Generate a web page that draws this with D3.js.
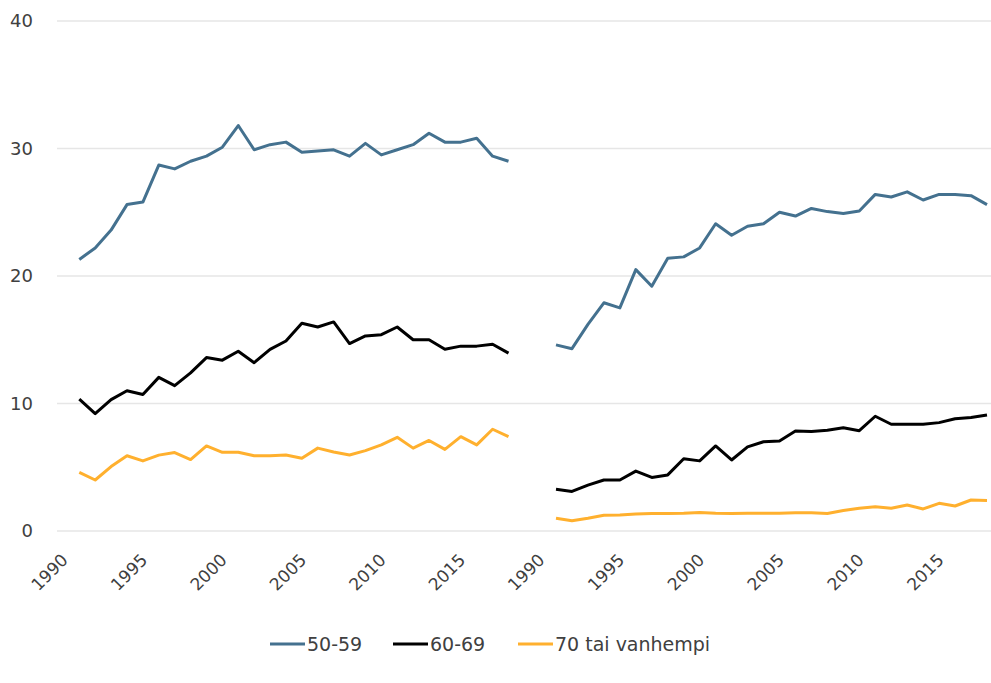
<!DOCTYPE html>
<html lang='en'>
	<head>
		<meta charset='UTF-8'>
		<title>Ikäryhmät</title>
		<style>
			body { margin: 0; background: #fff; }
			text { font-family: 'DejaVu Sans', sans-serif; fill: #404040; }
		</style>
	</head>
	<body>
		<svg id='graph' width='991' height='683'></svg>

		<script src='https://d3js.org/d3.v7.min.js'></script>
		<script>
			const years = d3.range(1990, 2018)
			const tickYears = [1990, 1995, 2000, 2005, 2010, 2015]
			const yTicks = [0, 10, 20, 30, 40]
			const seriesNames = ['50-59', '60-69', '70 tai vanhempi']
			const colors = ['#44718f', '#000000', '#ffb02e']

			// vasen paneeli
			const left50 = [21.3, 22.2, 23.6, 25.6, 25.8, 28.7, 28.4, 29.0, 29.4, 30.1, 31.8, 29.9, 30.3, 30.5, 29.7, 29.8, 29.9, 29.4, 30.4, 29.5, 29.9, 30.3, 31.2, 30.5, 30.5, 30.8, 29.4, 29.0]
			const left60 = [10.35, 9.2, 10.3, 11.0, 10.7, 12.05, 11.4, 12.4, 13.6, 13.4, 14.1, 13.2, 14.25, 14.9, 16.3, 16.0, 16.4, 14.7, 15.3, 15.4, 16.0, 15.0, 15.0, 14.25, 14.5, 14.5, 14.65, 13.95]
			const left70 = [4.6, 4.0, 5.05, 5.9, 5.5, 5.95, 6.15, 5.6, 6.67, 6.17, 6.17, 5.9, 5.9, 5.96, 5.7, 6.5, 6.2, 5.96, 6.3, 6.75, 7.35, 6.5, 7.1, 6.4, 7.4, 6.75, 7.98, 7.4]

			// oikea paneeli
			const right50 = [14.6, 14.3, 16.2, 17.9, 17.5, 20.5, 19.2, 21.4, 21.5, 22.2, 24.1, 23.2, 23.9, 24.1, 25.0, 24.7, 25.3, 25.05, 24.9, 25.1, 26.4, 26.2, 26.6, 25.96, 26.4, 26.4, 26.3, 25.6]
			const right60 = [3.27, 3.1, 3.6, 4.0, 4.0, 4.7, 4.2, 4.4, 5.67, 5.5, 6.67, 5.57, 6.6, 7.0, 7.06, 7.84, 7.8, 7.9, 8.1, 7.87, 9.0, 8.37, 8.37, 8.37, 8.5, 8.8, 8.9, 9.1]
			const right70 = [1.0, 0.8, 1.0, 1.23, 1.26, 1.33, 1.38, 1.38, 1.4, 1.46, 1.4, 1.38, 1.4, 1.4, 1.4, 1.43, 1.43, 1.38, 1.6, 1.78, 1.9, 1.78, 2.04, 1.73, 2.17, 1.96, 2.43, 2.4]

			const svg = d3.select('#graph')

			const yScale = d3.scaleLinear()
				.domain([0, 40])
				.range([531, 21])

			const panels = [
				{ scale: d3.scalePoint().domain(years).range([79.3, 508.5]), series: [left50, left60, left70] },
				{ scale: d3.scalePoint().domain(years).range([556, 987]), series: [right50, right60, right70] }
			]

			// gridlines
			svg.append('g')
				.selectAll('line')
				.data(yTicks)
				.enter()
				.append('line')
				.attr('x1', 57)
				.attr('x2', 991)
				.attr('y1', (d) => yScale(d))
				.attr('y2', (d) => yScale(d))
				.attr('stroke', '#e6e6e6')
				.attr('stroke-width', 1.5)

			const yAxis = d3.axisLeft(yScale)
				.tickValues(yTicks)
				.tickSize(0)
				.tickPadding(0)

			svg.append('g')
				.attr('transform', 'translate(33, 0)')
				.call(yAxis)
				.call((g) => g.select('.domain').remove())
				.selectAll('text')
				.attr('font-size', 18)
				.attr('font-family', 'DejaVu Sans, sans-serif')
				.attr('fill', '#404040')

			panels.forEach((panel) => {
				const xAxis = d3.axisBottom(panel.scale)
					.tickValues(tickYears)
					.tickSize(0)
					.tickFormat(d3.format('d'))

				const axisG = svg.append('g')
					.attr('transform', `translate(-15, 557)`)
					.call(xAxis)
					.call((g) => g.select('.domain').remove())

				axisG.selectAll('.tick text')
					.attr('font-size', 17)
					.attr('font-family', 'DejaVu Sans, sans-serif')
					.attr('fill', '#404040')
					.attr('text-anchor', 'end')
					.attr('dy', '0.35em')
					.attr('y', 0)
					.attr('transform', 'rotate(-45)')

				const line = d3.line()
					.x((d, i) => panel.scale(years[i]))
					.y((d) => yScale(d))

				panel.series.forEach((values, s) => {
					svg.append('path')
						.datum(values)
						.attr('d', line)
						.attr('fill', 'none')
						.attr('stroke', colors[s])
						.attr('stroke-width', 3)
						.attr('stroke-linejoin', 'round')
				})
			})

			// legend
			const legendX = [270, 393, 518]
			const legend = svg.append('g')
				.selectAll('g')
				.data(seriesNames)
				.enter()
				.append('g')
				.attr('transform', (d, i) => `translate(${legendX[i]}, 644)`)

			legend.append('line')
				.attr('x1', 0)
				.attr('x2', 35)
				.attr('stroke', (d, i) => colors[i])
				.attr('stroke-width', 3)

			legend.append('text')
				.attr('x', 37)
				.attr('dy', '0.35em')
				.attr('font-size', 19)
				.text((d) => d)
		</script>
	</body>
</html>
